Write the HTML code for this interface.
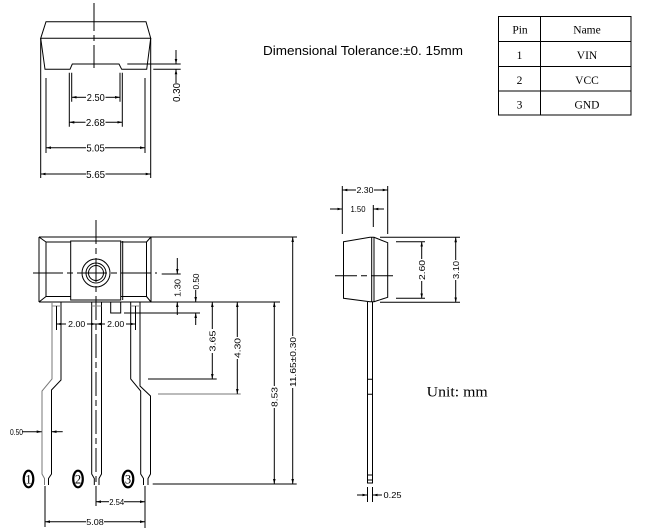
<!DOCTYPE html>
<html><head><meta charset="utf-8"><style>
html,body{margin:0;padding:0;background:#fff;}
svg{display:block;}
text{font-family:"Liberation Sans",sans-serif;fill:#000;stroke:none;}
.s{font-family:"Liberation Serif",serif;}
</style></head><body>
<svg width="646" height="530" viewBox="0 0 646 530" xmlns="http://www.w3.org/2000/svg">
<defs><marker id="a" markerWidth="6" markerHeight="4" refX="5" refY="2" orient="auto" markerUnits="userSpaceOnUse"><path d="M0,0.7 L5,2 L0,3.3z" fill="#000"/></marker></defs>
<g stroke="#000" stroke-width="1" fill="none">
<!-- TOP VIEW -->
<line x1="94" y1="3" x2="94" y2="68" stroke-dasharray="28,4,6,4"/>
<path d="M46,21.7 L146,21.7 L150.7,38.3 L40.7,38.3 Z"/>
<path d="M40.7,38.3 L45,69.3 L70,69.3 L72.3,64 L119,64 L121.7,69.3 L146.7,69.3 L150.7,38.3"/>
<path d="M40.7,38.3 V178 M150.7,38.3 V178 M46,78 V153 M145,78 V153 M69.3,72.7 V126.7 M122.3,72.7 V126.7 M71.7,72.7 V101.7 M120,72.7 V101.7"/>
<path d="M127.3,64 H180.7 M153.3,69.3 H180.7"/>
<line x1="176" y1="50" x2="176" y2="64" marker-end="url(#a)"/>
<line x1="176" y1="83" x2="176" y2="69.3" marker-end="url(#a)"/>
<line x1="86" y1="97.3" x2="71.7" y2="97.3" marker-end="url(#a)"/>
<line x1="105.5" y1="97.3" x2="120" y2="97.3" marker-end="url(#a)"/>
<line x1="85.5" y1="122.3" x2="69.3" y2="122.3" marker-end="url(#a)"/>
<line x1="105.5" y1="122.3" x2="122.3" y2="122.3" marker-end="url(#a)"/>
<line x1="86" y1="147.7" x2="46" y2="147.7" marker-end="url(#a)"/>
<line x1="105" y1="147.7" x2="145" y2="147.7" marker-end="url(#a)"/>
<line x1="86" y1="174" x2="40.7" y2="174" marker-end="url(#a)"/>
<line x1="105.5" y1="174" x2="150.7" y2="174" marker-end="url(#a)"/>

<!-- BOTTOM-LEFT VIEW body -->
<path d="M39,237 H297 M39,237 V302 M151,237 V302 M39,302 H280"/>
<rect x="46" y="242" width="100.5" height="54.5"/>
<path d="M39,237 L46,242 M151,237 L146.5,242 M39,302 L46,296.5 M151,302 L146.5,296.5"/>
<rect x="70.7" y="241" width="50" height="59" fill="#fff"/>
<line x1="122.7" y1="241" x2="122.7" y2="300"/>
<circle cx="96" cy="273" r="14"/>
<circle cx="96" cy="273" r="10"/>
<circle cx="96" cy="273" r="7.5"/>
<line x1="33" y1="273" x2="157" y2="273" stroke-dasharray="30,4,6,4"/>
<line x1="96" y1="220" x2="96" y2="490" stroke-dasharray="24,4,6,4"/>

<!-- pins -->
<path d="M52,302 V379 L42,391 V474 L44.5,478.5 V485" stroke="#777"/>
<path d="M61,302 V380 L51.5,390 V474 L48.5,478.5 V485"/>
<path d="M91.7,302 V474 L94.3,478.5 V485 M101.5,302 V474 L99,478.5 V485"/>
<path d="M130.7,302 V379 L140.7,391 V474 L143.5,478.5 V485"/>
<path d="M140,302 V386 L150.5,396 V474 L148,478.5 V485"/>
<path d="M52,306 H61 M91.7,306 H101.5 M130.7,306 H140" stroke="#888"/>
<rect x="110.7" y="302" width="10" height="11"/>
<path d="M56.5,306 V330 M135.5,306 V330"/>
<line x1="66" y1="324" x2="56.5" y2="324" marker-end="url(#a)"/>
<line x1="87" y1="324" x2="96" y2="324" marker-end="url(#a)"/>
<line x1="105" y1="324" x2="96" y2="324" marker-end="url(#a)"/>
<line x1="126" y1="324" x2="135.5" y2="324" marker-end="url(#a)"/>

<!-- ext lines right of bottom view -->
<path d="M161.7,274 H180.7 M124,313 H200 M148,379 H216.7 M152.7,484 H296.7"/>
<line x1="158" y1="394" x2="240.7" y2="394" stroke="#777"/>
<line x1="177.3" y1="258" x2="177.3" y2="274" marker-end="url(#a)"/>
<line x1="177.3" y1="315" x2="177.3" y2="302" marker-end="url(#a)"/>
<line x1="195.7" y1="290" x2="195.7" y2="302" marker-end="url(#a)"/>
<line x1="195.7" y1="325" x2="195.7" y2="313" marker-end="url(#a)"/>
<line x1="212.3" y1="329" x2="212.3" y2="302" marker-end="url(#a)"/>
<line x1="212.3" y1="353" x2="212.3" y2="379" marker-end="url(#a)"/>
<line x1="237.3" y1="337" x2="237.3" y2="302" marker-end="url(#a)"/>
<line x1="237.3" y1="359" x2="237.3" y2="394" marker-end="url(#a)"/>
<line x1="274.3" y1="386" x2="274.3" y2="302" marker-end="url(#a)"/>
<line x1="274.3" y1="408" x2="274.3" y2="484" marker-end="url(#a)"/>
<line x1="292.7" y1="336" x2="292.7" y2="237" marker-end="url(#a)"/>
<line x1="292.7" y1="388" x2="292.7" y2="484" marker-end="url(#a)"/>

<!-- lower dims -->
<line x1="22" y1="431.7" x2="41.7" y2="431.7" marker-end="url(#a)"/>
<line x1="62.7" y1="431.7" x2="51.5" y2="431.7" marker-end="url(#a)"/>
<path d="M45,486 V527 M96,490 V506 M145,486 V528"/>
<line x1="109" y1="501.7" x2="96" y2="501.7" marker-end="url(#a)"/>
<line x1="124" y1="501.7" x2="145" y2="501.7" marker-end="url(#a)"/>
<line x1="86" y1="521.7" x2="45" y2="521.7" marker-end="url(#a)"/>
<line x1="104" y1="521.7" x2="145" y2="521.7" marker-end="url(#a)"/>
<ellipse cx="28.5" cy="479" rx="4.8" ry="8.3" stroke-width="2.2"/>
<ellipse cx="78" cy="479" rx="4.8" ry="8.3" stroke-width="2.2"/>
<ellipse cx="128" cy="479" rx="5.3" ry="8.3" stroke-width="2.2"/>

<!-- SIDE VIEW -->
<path d="M343.5,241.7 L370,237.3 L374,237.3 L387.7,242.7 V297.3 L374,301.7 L370,301.7 L343.5,298.3 Z"/>
<path d="M371.7,237.3 V301.7 M374,237.3 V301.7"/>
<line x1="335" y1="275.7" x2="397" y2="275.7" stroke-dasharray="22,4,6,4"/>
<path d="M367.5,302 V483 H372.5 V302"/>
<path d="M367.5,379.3 H372.5 M367.5,394.3 H372.5 M367.5,475 H372.5 M367.5,480 H372.5"/>
<path d="M342.3,186 V234 M387.7,186 V234 M373.3,205 V227"/>
<line x1="356" y1="190" x2="342.3" y2="190" marker-end="url(#a)"/>
<line x1="374" y1="190" x2="387.7" y2="190" marker-end="url(#a)"/>
<line x1="330" y1="209" x2="342.3" y2="209" marker-end="url(#a)"/>
<line x1="384" y1="209" x2="373.3" y2="209" marker-end="url(#a)"/>
<path d="M380,237.3 H460 M396,241.7 H425 M396,298.3 H425 M380,302.3 H460"/>
<line x1="421.7" y1="259" x2="421.7" y2="241.7" marker-end="url(#a)"/>
<line x1="421.7" y1="281" x2="421.7" y2="298.3" marker-end="url(#a)"/>
<line x1="455.7" y1="260" x2="455.7" y2="237.3" marker-end="url(#a)"/>
<line x1="455.7" y1="280" x2="455.7" y2="302.3" marker-end="url(#a)"/>
<path d="M367.5,487 V502 M372.5,487 V502"/>
<line x1="357" y1="495" x2="367.5" y2="495" marker-end="url(#a)"/>
<line x1="382" y1="495" x2="372.5" y2="495" marker-end="url(#a)"/>

<!-- TABLE -->
<rect x="498.5" y="16.5" width="132.5" height="98.5"/>
<path d="M540.5,16.5 V115 M498.5,41.5 H631 M498.5,66.5 H631 M498.5,91 H631"/>
</g>

<!-- TEXTS -->
<g font-size="10.5" text-anchor="middle">
<text x="95.8" y="101" textLength="18" lengthAdjust="spacingAndGlyphs">2.50</text>
<text x="95.4" y="126" textLength="19" lengthAdjust="spacingAndGlyphs">2.68</text>
<text x="95.6" y="151.5" textLength="18.5" lengthAdjust="spacingAndGlyphs">5.05</text>
<text x="95.6" y="177.8" textLength="19" lengthAdjust="spacingAndGlyphs">5.65</text>
<text transform="translate(176,92.5) rotate(-90)" y="3.8" textLength="19" lengthAdjust="spacingAndGlyphs">0.30</text>
</g>
<g font-size="8.5" text-anchor="middle">
<text x="76.7" y="327" textLength="17" lengthAdjust="spacingAndGlyphs">2.00</text>
<text x="115.7" y="327" textLength="17" lengthAdjust="spacingAndGlyphs">2.00</text>
<text x="116.7" y="504.8" textLength="15" lengthAdjust="spacingAndGlyphs">2.54</text>
<text x="95" y="524.8" textLength="17.5" lengthAdjust="spacingAndGlyphs">5.08</text>
<text x="16.5" y="434.8" textLength="13" lengthAdjust="spacingAndGlyphs">0.50</text>
<text x="365" y="193.2" textLength="17" lengthAdjust="spacingAndGlyphs">2.30</text>
<text x="358" y="212.2" textLength="15" lengthAdjust="spacingAndGlyphs">1.50</text>
<text x="392.5" y="498.2" textLength="18" lengthAdjust="spacingAndGlyphs">0.25</text>
<text transform="translate(177.3,288) rotate(-90)" y="3.2" textLength="18" lengthAdjust="spacingAndGlyphs">1.30</text>
<text transform="translate(195.7,281.5) rotate(-90)" y="3.2" textLength="16" lengthAdjust="spacingAndGlyphs">0.50</text>
<text transform="translate(212.3,341) rotate(-90)" y="3.2" textLength="21" lengthAdjust="spacingAndGlyphs">3.65</text>
<text transform="translate(237.3,348) rotate(-90)" y="3.2" textLength="20" lengthAdjust="spacingAndGlyphs">4.30</text>
<text transform="translate(274.3,397) rotate(-90)" y="3.2" textLength="20" lengthAdjust="spacingAndGlyphs">8.53</text>
<text transform="translate(292.7,362) rotate(-90)" y="3.2" textLength="50" lengthAdjust="spacingAndGlyphs">11.65±0.30</text>
<text transform="translate(421.7,270) rotate(-90)" y="3.2" textLength="20" lengthAdjust="spacingAndGlyphs">2.60</text>
<text transform="translate(455.7,270) rotate(-90)" y="3.2" textLength="18" lengthAdjust="spacingAndGlyphs">3.10</text>
</g>
<g class="s" font-size="12.5" text-anchor="middle">
<text class="s" x="28.5" y="483.5">1</text>
<text class="s" x="78" y="483.5">2</text>
<text class="s" x="128" y="483.5">3</text>
</g>
<text x="263" y="55" font-size="13" textLength="200" lengthAdjust="spacingAndGlyphs">Dimensional Tolerance:±0. 15mm</text>
<text class="s" x="426.7" y="396.7" font-size="15" textLength="61" lengthAdjust="spacingAndGlyphs">Unit: mm</text>
<g class="s" font-size="11.5" text-anchor="middle">
<text class="s" x="520" y="33.3">Pin</text>
<text class="s" x="587" y="33.3">Name</text>
<text class="s" x="519.5" y="59">1</text>
<text class="s" x="587" y="59">VIN</text>
<text class="s" x="519.5" y="84">2</text>
<text class="s" x="587" y="84">VCC</text>
<text class="s" x="519.5" y="108.3">3</text>
<text class="s" x="587" y="108.3">GND</text>
</g>
</svg>
</body></html>
